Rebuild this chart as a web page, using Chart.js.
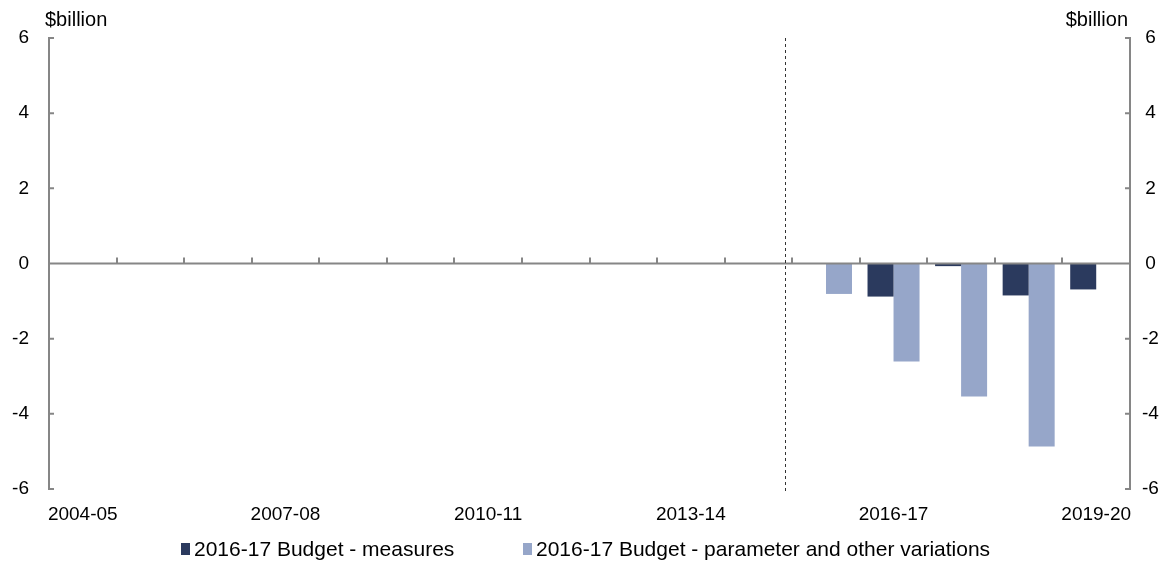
<!DOCTYPE html>
<html>
<head>
<meta charset="utf-8">
<script src="https://cdn.jsdelivr.net/npm/chart.js@4/dist/chart.umd.min.js"></script>
<style>
  html, body { margin: 0; padding: 0; background: #fff; }
  #wrap { width: 1171px; height: 561px; position: relative; }
</style>
</head>
<body>
<div id="wrap"><canvas id="chart" width="1171" height="561"></canvas></div>
<script>
// data
const years = ['2004-05', '2005-06', '2006-07', '2007-08', '2008-09', '2009-10', '2010-11', '2011-12',
    '2012-13', '2013-14', '2014-15', '2015-16', '2016-17', '2017-18', '2018-19', '2019-20'];
const measures = [null, null, null, null, null, null, null, null, null, null, null, 0, -0.88, -0.07, -0.85, -0.69];
const parameter = [null, null, null, null, null, null, null, null, null, null, null, -0.81, -2.61, -3.54, -4.87, null];
const yTicks = [-6, -4, -2, 0, 2, 4, 6];
const unitLabel = '$billion';

const axisGrey = '#868686';
const font = 'Liberation Sans, Arial, sans-serif';

// zero line, boundary ticks, inward y ticks, dashed separator, unit labels, legend
const extras = {
    id: 'extras',
    afterDatasetsDraw(chart) {
        const { ctx, chartArea, scales } = chart;
        const x = scales.x, y = scales.y;
        const y0 = y.getPixelForValue(0);
        const step = x.getPixelForValue(1) - x.getPixelForValue(0);
        ctx.save();
        ctx.strokeStyle = axisGrey;
        ctx.lineWidth = 2;
        ctx.beginPath();
        ctx.moveTo(chartArea.left, y0);
        ctx.lineTo(chartArea.right, y0);
        for (let i = 1; i < years.length; i++) {
            const px = Math.round(chartArea.left + i * step);
            ctx.moveTo(px, y0);
            ctx.lineTo(px, y0 - 6);
        }
        yTicks.forEach(v => {
            const py = y.getPixelForValue(v);
            ctx.moveTo(chartArea.left, py);
            ctx.lineTo(chartArea.left + 5, py);
            ctx.moveTo(chartArea.right, py);
            ctx.lineTo(chartArea.right - 5, py);
        });
        ctx.stroke();

        // dashed line between actuals and estimates
        const dx = Math.round(x.getPixelForValue(10) + 0.39 * step) + 0.5;
        ctx.strokeStyle = '#333';
        ctx.lineWidth = 1;
        ctx.setLineDash([3, 3]);
        ctx.beginPath();
        ctx.moveTo(dx, chartArea.top);
        ctx.lineTo(dx, chartArea.bottom + 4);
        ctx.stroke();
        ctx.setLineDash([]);

        ctx.fillStyle = '#000';
        ctx.font = '20px ' + font;
        ctx.textBaseline = 'middle';
        ctx.textAlign = 'left';
        ctx.fillText(unitLabel, 45, 20);
        ctx.textAlign = 'right';
        ctx.fillText(unitLabel, 1128, 20);

        // legend
        const legendX = [181, 523];
        const ly = 549;
        ctx.font = '21px ' + font;
        ctx.textAlign = 'left';
        chart.data.datasets.forEach((ds, i) => {
            ctx.fillStyle = ds.backgroundColor;
            ctx.fillRect(legendX[i], ly - 6, 9, 12);
            ctx.fillStyle = '#000';
            ctx.fillText(ds.label, legendX[i] + 13, ly + 1);
        });
        ctx.restore();
    }
};

new Chart(document.getElementById('chart').getContext('2d'), {
    type: 'bar',
    data: {
        labels: years,
        datasets: [{
            label: '2016-17 Budget - measures',
            data: measures,
            backgroundColor: '#2B3A5E',
            yAxisID: 'y'
        }, {
            label: '2016-17 Budget - parameter and other variations',
            data: parameter,
            backgroundColor: '#96A6C9',
            yAxisID: 'y'
        }]
    },
    options: {
        responsive: false,
        animation: false,
        layout: { padding: { top: 38, left: 0, right: 0, bottom: 0 } },
        datasets: { bar: { categoryPercentage: 0.77, barPercentage: 1.0 } },
        plugins: {
            legend: { display: false },
            tooltip: { enabled: false }
        },
        scales: {
            x: {
                grid: { display: false },
                border: { display: false },
                ticks: {
                    autoSkip: false,
                    maxRotation: 0,
                    color: '#000',
                    font: { family: font, size: 19 },
                    padding: 6,
                    callback: (v, i) => (i % 3 === 0 ? years[i] : '')
                },
                afterFit: s => { s.height = 72; }
            },
            y: {
                position: 'left',
                min: -6,
                max: 6,
                grid: { display: false },
                border: { display: true, color: axisGrey, width: 2 },
                ticks: {
                    stepSize: 2,
                    color: '#000',
                    font: { family: font, size: 19 },
                    padding: 12
                },
                afterFit: s => { s.width = 49; }
            },
            y2: {
                position: 'right',
                min: -6,
                max: 6,
                grid: { display: false },
                border: { display: true, color: axisGrey, width: 2 },
                ticks: {
                    stepSize: 2,
                    color: '#000',
                    font: { family: font, size: 19 },
                    crossAlign: 'center',
                    padding: 4
                },
                afterFit: s => { s.width = 41; }
            }
        }
    },
    plugins: [extras]
});
</script>
</body>
</html>
